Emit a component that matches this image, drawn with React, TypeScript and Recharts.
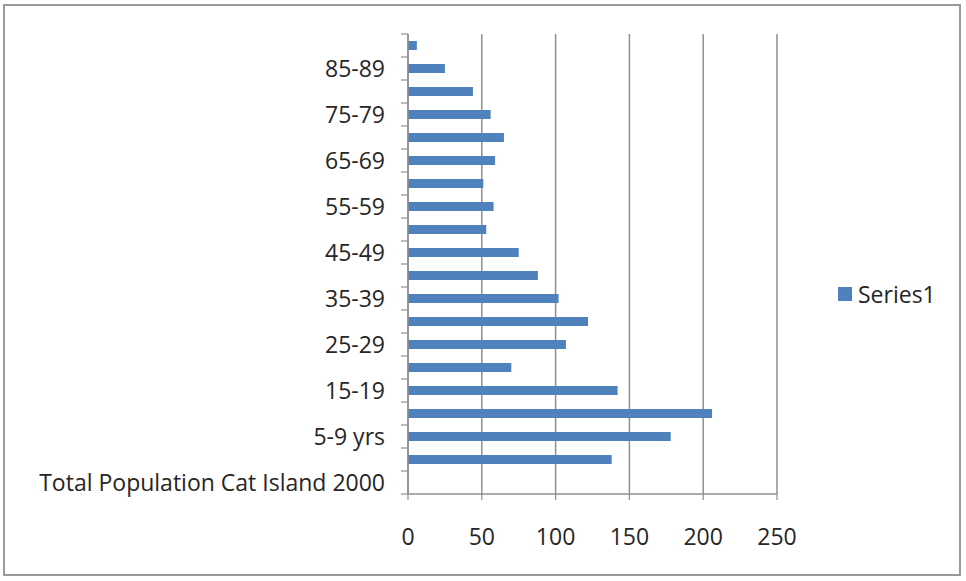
import React from "react";
import { BarChart, Bar, XAxis, YAxis, CartesianGrid, Legend } from "recharts";

const categories = [
  "Total Population Cat Island 2000",
  "0-4",
  "5-9 yrs",
  "10-14",
  "15-19",
  "20-24",
  "25-29",
  "30-34",
  "35-39",
  "40-44",
  "45-49",
  "50-54",
  "55-59",
  "60-64",
  "65-69",
  "70-74",
  "75-79",
  "80-84",
  "85-89",
  "90+",
];

const series1Values: (number | null)[] = [
  null, 138, 178, 206, 142, 70, 107, 122, 102, 88, 75, 53, 58, 51, 59, 65, 56, 44, 25, 6,
];

const xTicks = [0, 50, 100, 150, 200, 250];
const seriesName = "Series1";

const data = categories.map((c, i) => ({ category: c, value: series1Values[i] }));

const FONT = "'Open Sans', Lato, sans-serif";
const TEXT = "#262626";
const GRID = "#8f8f8f";
const BAR = "#4F81BD";

const YTick = (props: any) => {
  const { x, y, payload, index } = props;
  const half = payload && payload.offset ? payload.offset : 11.5;
  const axisX = x + 16 + 7;
  return (
    <g>
      <line x1={axisX - 7} x2={axisX} y1={y - half} y2={y - half} stroke={GRID} strokeWidth={1.2} />
      {index === 0 && (
        <line x1={axisX - 7} x2={axisX} y1={y + half} y2={y + half} stroke={GRID} strokeWidth={1.2} />
      )}
      {index % 2 === 0 && (
        <text x={x} y={y} dy="0.36em" textAnchor="end" fill={TEXT} fontFamily={FONT} fontSize={23}>
          {payload.value}
        </text>
      )}
    </g>
  );
};

const LegendContent = () => (
  <div style={{ display: "flex", alignItems: "center", fontFamily: FONT, fontSize: 23, color: TEXT }}>
    <span style={{ display: "inline-block", width: 14, height: 14, background: BAR, marginRight: 6 }} />
    <span>{seriesName}</span>
  </div>
);

export default function App() {
  return (
    <div style={{ position: "absolute", left: 0, top: 0, width: 966, height: 581, background: "#fff" }}>
      <div
        style={{
          position: "absolute",
          left: 3,
          top: 4,
          width: 958,
          height: 572,
          border: "2px solid #9a9a9a",
          boxSizing: "border-box",
        }}
      />
      <div style={{ position: "absolute", left: 0, top: 0 }}>
        <BarChart
          width={966}
          height={581}
          data={data}
          layout="vertical"
          margin={{ top: 34, right: 189, bottom: 0, left: 0 }}
          barSize={9}
        >
          <CartesianGrid horizontal={false} vertical={true} stroke={GRID} strokeWidth={1.5} />
          <XAxis
            type="number"
            domain={[0, 250]}
            ticks={xTicks}
            interval={0}
            height={87}
            axisLine={{ stroke: GRID, strokeWidth: 1.5 }}
            tickLine={{ stroke: GRID, strokeWidth: 1.2 }}
            tickSize={6}
            tickMargin={29}
            tick={{ fill: TEXT, fontFamily: FONT, fontSize: 23 }}
          />
          <YAxis
            type="category"
            dataKey="category"
            reversed={true}
            width={408}
            interval={0}
            tickSize={7}
            tickMargin={16}
            tickLine={false}
            axisLine={{ stroke: GRID, strokeWidth: 1.5 }}
            tick={<YTick />}
          />
          <Legend
            layout="horizontal"
            verticalAlign="middle"
            align="center"
            content={<LegendContent />}
            wrapperStyle={{ position: "absolute", left: 838, top: 278, width: 124 }}
          />
          <Bar dataKey="value" name={seriesName} fill={BAR} isAnimationActive={false} />
        </BarChart>
      </div>
    </div>
  );
}
